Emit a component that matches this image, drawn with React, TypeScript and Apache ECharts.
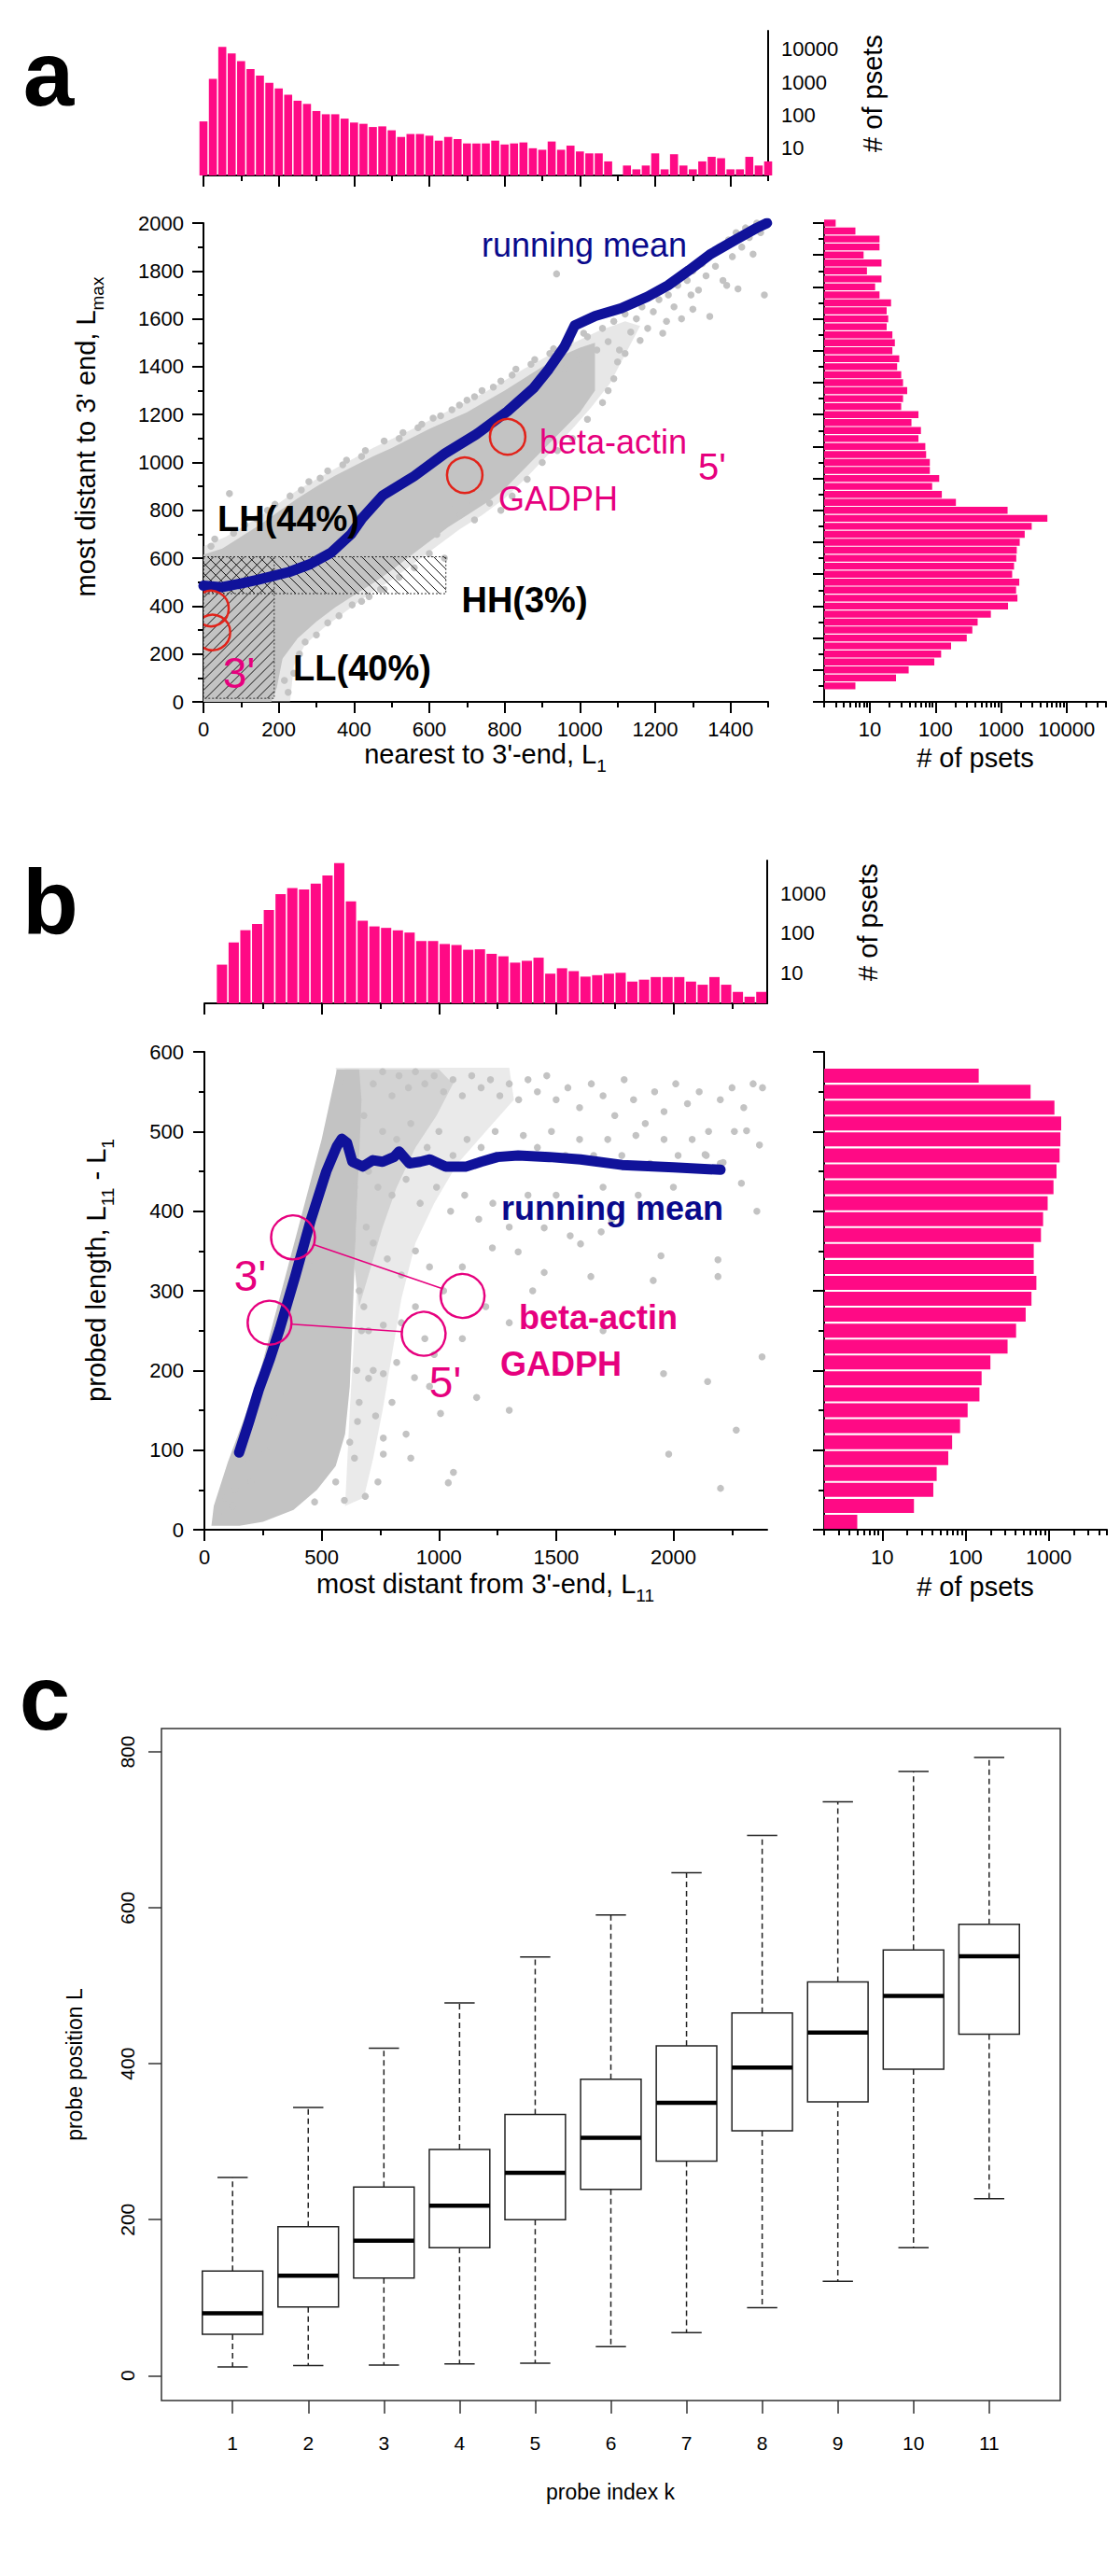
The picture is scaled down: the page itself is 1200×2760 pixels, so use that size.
import React, { useEffect, useRef } from 'react';
import * as echarts from 'echarts';

const FONT = "'Liberation Sans', Arial, Helvetica, sans-serif";
const PINK = '#FF0A85';
const GRAY = '#C3C3C3';
const NAVY = '#10129A';
const NAVY_TEXT = '#0A0A8C';
const MAGENTA = '#E6007E';
const RED = '#E2231A';

// ---------- panel a histograms ----------
// L1 histogram, bins of 25 centred at 0, 25, ..., 1500
const topHistA = [65, 1260, 11700, 7400, 4330, 2500, 1590, 950, 650, 415, 275, 220, 134, 107, 107, 79, 60, 55, 44, 46,
  35, 22, 27, 27, 24, 17, 22, 19, 14, 14, 14, 17, 13, 14, 15, 10, 9, 16, 9, 12, 8, 7, 7, 4, 0, 3, 2.3, 3, 7, 2.3,
  6.6, 3, 2.3, 4, 5.5, 5, 2.3, 2.3, 5.5, 3, 4];
const topHistABins = ['0', '25', '50', '75', '100', '125', '150', '175', '200', '225', '250', '275', '300', '325', '350',
  '375', '400', '425', '450', '475', '500', '525', '550', '575', '600', '625', '650', '675', '700', '725', '750', '775',
  '800', '825', '850', '875', '900', '925', '950', '975', '1000', '1025', '1050', '1075', '1100', '1125', '1150', '1175',
  '1200', '1225', '1250', '1275', '1300', '1325', '1350', '1375', '1400', '1425', '1450', '1475', '1500'];
// Lmax histogram, bins of 33.3 centred at 0, 33.3, ..., 2000
const rightHistA = [0, 0, 6, 25, 39, 96, 122, 173, 300, 365, 440, 700, 1280, 1780, 1700, 1900, 1480, 1580, 1710, 1740,
  1930, 2300, 2940, 5100, 1260, 205, 125, 89, 114, 82, 82, 72, 70, 55, 60, 43, 55, 30, 32, 37, 32, 30, 26, 28, 22, 24,
  22, 18, 19, 18, 21, 14, 12, 15, 9, 15, 8, 14, 14, 6, 3];
const rightHistABins = rightHistA.map((_, i) => 'b' + i);

// ---------- panel b histograms ----------
// L11 histogram, bins 0-50, 50-100, ..., 2350-2400
const topHistB = [0, 16, 58, 118, 170, 380, 960, 1350, 1260, 1750, 2830, 5750, 630, 204, 147, 135, 117, 103, 63, 63,
  53, 50, 38, 39, 30, 26, 18, 20, 24, 9.5, 13, 11, 8, 8.7, 9.5, 10, 6, 6.7, 7.8, 7.8, 7.8, 6, 5, 7.8, 5, 3.3, 2.5, 3.3];
const topHistBBins = topHistB.map((_, i) => 'b' + i);
// L11-L1 histogram, bins 0-20, ..., 580-600
const rightHistB = [5, 24, 41, 45, 62, 69, 86, 106, 147, 156, 199, 320, 405, 528, 620, 710, 660, 660, 806, 855, 970,
  1140, 1240, 1350, 1380, 1410, 1170, 605, 144, 0];
const rightHistBBins = rightHistB.map((_, i) => 'b' + i);

// ---------- running means ----------
const runningMeanA = [[0, 485], [48, 479], [100, 495], [145, 510], [228, 543], [283, 575], [338, 622], [393, 702],
  [421, 766], [476, 862], [559, 942], [641, 1037], [724, 1117], [807, 1213], [876, 1309], [917, 1389], [959, 1484],
  [986, 1572], [1041, 1612], [1110, 1644], [1179, 1692], [1234, 1740], [1290, 1803], [1345, 1868], [1414, 1931],
  [1469, 1979], [1497, 2000]];
const runningMeanB = [[148, 97], [190, 135], [232, 176], [280, 215], [321, 252], [387, 318], [454, 389], [520, 450],
  [564, 481], [586, 491], [608, 486], [631, 462], [675, 456], [719, 464], [760, 462], [808, 468], [830, 475], [874, 460],
  [920, 462], [962, 465], [1029, 456], [1117, 456], [1180, 462], [1250, 468], [1338, 470], [1471, 468], [1604, 465],
  [1781, 458], [2002, 455], [2201, 452]];

// ---------- point clouds ----------
const denseCloudA = [[0, 0], [0, 615], [50, 640], [100, 690], [150, 740], [200, 795], [250, 850], [300, 900], [350, 945],
  [400, 985], [450, 1025], [500, 1060], [550, 1100], [600, 1140], [650, 1175], [700, 1210], [750, 1255], [800, 1300],
  [850, 1350], [900, 1400], [950, 1445], [1000, 1480], [1040, 1500], [1040, 1300], [1000, 1210], [950, 1130],
  [900, 1050], [850, 970], [800, 890], [750, 830], [700, 780], [650, 730], [600, 670], [550, 610], [500, 550],
  [450, 495], [400, 445], [350, 395], [300, 335], [250, 265], [210, 180], [195, 60], [180, 0]];
const lightCloudA = [[0, 0], [0, 650], [60, 690], [150, 775], [250, 885], [350, 975], [450, 1060], [550, 1135],
  [650, 1215], [750, 1295], [850, 1390], [950, 1475], [1050, 1550], [1120, 1590], [1160, 1570], [1120, 1450],
  [1080, 1330], [1030, 1230], [980, 1140], [920, 1040], [860, 940], [800, 850], [740, 780], [680, 720], [620, 650],
  [560, 580], [500, 510], [440, 450], [380, 380], [320, 310], [270, 240], [240, 150], [230, 0]];
const scatterA = [[1060, 1560], [1075, 1505], [1090, 1590], [1105, 1470], [1120, 1620], [1135, 1545], [1150, 1600],
  [1165, 1650], [1180, 1560], [1195, 1630], [1210, 1680], [1220, 1540], [1235, 1700], [1250, 1650], [1260, 1740],
  [1270, 1600], [1285, 1760], [1295, 1700], [1300, 1800], [1315, 1720], [1325, 1830], [1335, 1780], [1345, 1610],
  [1350, 1870], [1360, 1820], [1370, 1900], [1380, 1760], [1390, 1740], [1395, 1930], [1405, 1860], [1415, 1960],
  [1420, 1725], [1430, 1900], [1440, 1980], [1450, 1940], [1460, 1870], [1470, 2000], [1480, 1960], [1490, 1700],
  [1300, 1640], [1230, 1590], [1160, 1510], [1120, 1455], [938, 1788],
  [610, 1185], [660, 1220], [700, 1260], [740, 1300], [790, 1340], [830, 1390], [880, 1430], [930, 1475], [975, 1510],
  [1010, 1540], [1045, 1470], [1000, 1430], [960, 1390],
  [620, 700], [655, 830], [683, 782], [700, 830], [720, 760], [760, 830], [790, 800], [730, 880], [820, 860], [860, 930],
  [900, 1000], [940, 1050], [980, 1100], [1020, 1180], [1060, 1250], [1090, 1350], [1100, 1420], [1075, 1300],
  [640, 600], [600, 620], [560, 560], [520, 520], [470, 470], [420, 420], [650, 900], [870, 1050],
  [69, 870], [30, 680], [110, 740], [170, 800], [230, 860], [280, 920], [330, 965], [380, 1010], [430, 1050], [480, 1090],
  [530, 1125], [580, 1160],
  [20, 650], [80, 705], [140, 765], [190, 825], [260, 885], [310, 935], [370, 990], [420, 1025], [520, 1100],
  [570, 1145], [630, 1195], [680, 1240], [720, 1275], [770, 1315], [820, 1365], [870, 1410], [920, 1455], [970, 1495],
  [1020, 1525],
  [240, 120], [255, 200], [270, 250], [300, 280], [330, 330], [360, 360], [395, 405], [440, 440], [480, 470], [215, 90],
  [225, 40]];

const denseCloudB = [[30, 5], [40, 30], [100, 85], [170, 140], [230, 190], [320, 290], [410, 390], [500, 490], [565, 578],
  [660, 578], [670, 540], [660, 470], [650, 400], [640, 330], [630, 250], [620, 180], [600, 120], [560, 80], [480, 50],
  [380, 25], [250, 10], [150, 5]];
const mediumCloudB = [[600, 578], [1000, 578], [1060, 560], [990, 520], [900, 480], [820, 430], [760, 380], [700, 320],
  [660, 280], [640, 330], [660, 470]];
const lightCloudB = [[560, 580], [1300, 580], [1320, 540], [1200, 500], [1080, 460], [980, 410], [900, 360], [840, 290],
  [800, 220], [760, 150], [720, 90], [680, 40], [600, 30], [620, 150], [650, 300]];
const scatterB = [[720, 560], [760, 575], [800, 545], [830, 570], [870, 555], [900, 575], [940, 560], [980, 570],
  [1020, 550], [1060, 565], [1100, 545], [1140, 570], [1180, 555], [1220, 565], [1260, 545], [1300, 560], [1340, 540],
  [1380, 565], [1420, 550], [1460, 570], [1500, 540], [1550, 555], [1600, 530], [1650, 560], [1700, 545], [1750, 520],
  [1790, 565], [1830, 540], [1880, 510], [1920, 550], [1960, 525], [2010, 560], [2060, 535], [2110, 550], [2150, 500],
  [2200, 540], [2250, 555], [2300, 530], [2340, 560], [2380, 555],
  [760, 500], [820, 490], [880, 510], [950, 480], [1000, 500], [1060, 470], [1120, 490], [1180, 480], [1240, 500],
  [1300, 470], [1360, 495], [1420, 480], [1480, 500], [1540, 470], [1600, 490], [1660, 470], [1720, 490], [1780, 470],
  [1840, 495], [1900, 460], [1960, 490], [2020, 470], [2080, 490], [2140, 470], [2200, 460], [2260, 500], [2312, 501],
  [2367, 483], [2290, 435], [2356, 400],
  [740, 430], [800, 420], [860, 440], [920, 410], [990, 430], [1050, 400], [1110, 420], [1170, 390], [1230, 410],
  [1300, 380], [1380, 420], [1449, 379], [1449, 323], [1560, 369], [1604, 359], [1648, 318], [1692, 374], [1737, 389],
  [1914, 313], [1947, 344], [2190, 339], [2190, 318], [2135, 471], [2212, 461], [1500, 420], [1700, 430], [1850, 420],
  [2000, 430],
  [720, 360], [780, 340], [840, 320], [900, 350], [960, 330], [1020, 300], [1100, 330], [1228, 354], [1338, 349],
  [1200, 280], [1300, 260], [1400, 300],
  [700, 250], [763, 257], [720, 200], [763, 196], [896, 191], [980, 220], [1100, 240], [1161, 166], [1007, 146],
  [1062, 72], [1040, 59], [763, 115], [763, 95], [686, 42], [597, 37], [730, 143], [653, 136], [800, 160], [860, 120],
  [840, 260], [900, 280], [940, 240], [680, 280], [700, 190], [740, 60], [820, 210], [880, 90], [960, 180],
  [680, 520], [700, 450], [690, 380], [670, 250], [660, 160], [640, 90],
  [1958, 196], [1980, 95], [2268, 125], [2201, 52], [2146, 186], [2378, 217], [1700, 250], [1500, 200], [1300, 150],
  [60, 20], [90, 40], [130, 50], [180, 90], [120, 30], [200, 60], [260, 100], [300, 140], [350, 170], [420, 260],
  [460, 330], [530, 450], [560, 540], [600, 560], [640, 430], [660, 300], [650, 200], [620, 110], [560, 60], [470, 35]];

// ---------- annotations ----------
const circlesA = [[808, 1107], [694, 947], [20, 390], [24, 290]];
const circlesB = [[378, 367], [278, 260], [1101, 294], [935, 247]];
const linkPairsB = [[0, 2], [1, 3]];
// [x0, y0, x1, y1, direction]  direction 0 = "\\", 1 = "/"
const hatchA = [[0, 452, 644, 606, 0], [0, 15, 188, 606, 1]];

// ---------- panel c ----------
const probeIndex = [1, 2, 3, 4, 5, 6, 7, 8, 9, 10, 11];
// [min, q1, median, q3, max]
const boxStats = [
  [11, 53, 80, 134, 254],
  [13, 88, 128, 191, 344],
  [13.5, 125, 173, 242, 420],
  [15, 164, 218, 290, 478],
  [16, 200, 260, 335, 537],
  [37, 239, 305, 380, 591],
  [55, 275, 350, 423, 645],
  [87, 314, 395, 465, 693],
  [121, 351, 440, 505, 736],
  [164, 393, 487, 546, 775],
  [227, 438, 538, 579, 793],
];

// ---------- ticks ----------
const ticksAxMajor = [0, 200, 400, 600, 800, 1000, 1200, 1400];
const ticksAxMinor = [100, 300, 500, 700, 900, 1100, 1300, 1500];
const ticksAyMajor = [0, 200, 400, 600, 800, 1000, 1200, 1400, 1600, 1800, 2000];
const ticksAyMinor = [100, 300, 500, 700, 900, 1100, 1300, 1500, 1700, 1900];
const ticksBxMajor = [0, 500, 1000, 1500, 2000];
const ticksBxMinor = [250, 750, 1250, 1750, 2250];
const ticksByMajor = [0, 100, 200, 300, 400, 500, 600];
const ticksByMinor = [50, 150, 250, 350, 450, 550];
const ticksRAMajor = [0, 133.333, 266.667, 400, 533.333, 666.667, 800, 933.333, 1066.667, 1200, 1333.333, 1466.667,
  1600, 1733.333, 1866.667, 2000];
const ticksRAMinor = [66.667, 200, 333.333, 466.667, 600, 733.333, 866.667, 1000, 1133.333, 1266.667, 1400, 1533.333,
  1666.667, 1800, 1933.333];
const logMajorA = [10, 100, 1000, 10000];
const logMinorA = [2, 3, 4, 5, 6, 7, 8, 9, 20, 30, 40, 50, 60, 70, 80, 90, 200, 300, 400, 500, 600, 700, 800, 900,
  2000, 3000, 4000, 5000, 6000, 7000, 8000, 9000, 20000, 30000, 40000];
const logMajorB = [10, 100, 1000];
const logMinorB = [2, 3, 4, 5, 6, 7, 8, 9, 20, 30, 40, 50, 60, 70, 80, 90, 200, 300, 400, 500, 600, 700, 800, 900,
  2000, 3000, 4000, 5000];
const ticksCy = [0, 200, 400, 600, 800];

const AX_LINE = { show: true, onZero: false, lineStyle: { color: '#000', width: 2 } };
const NO_LINE = { show: false, onZero: false };
const LABEL = { fontSize: 22, fontFamily: FONT, color: '#000' };
const fmtInt = (v: number) => String(Math.round(v));

function tickAxis(grid: number, type: string, min: number, max: number, values: number[], len: number, position: string) {
  const ax: any = {
    type, gridIndex: grid, min, max, position,
    axisLine: NO_LINE,
    axisTick: { show: true, length: len, customValues: values, lineStyle: { color: '#000', width: 2 } },
    axisLabel: { show: false },
    splitLine: { show: false },
    minorTick: { show: false },
  };
  if (type === 'log') ax.logBase = 10;
  return ax;
}

function polySeries(xi: number, yi: number, pts: number[][], opacity: number) {
  return {
    type: 'custom', xAxisIndex: xi, yAxisIndex: yi, clip: true, silent: true, z: 1,
    data: [[pts[0][0], pts[0][1]]],
    renderItem: (params: any, api: any) => {
      if (params.dataIndex !== 0) return null;
      return {
        type: 'polygon',
        shape: { points: pts.map((p) => api.coord(p)) },
        style: { fill: GRAY, opacity },
      };
    },
  };
}

function T(x: number, y: number, text: string, size: number, opts: any = {}) {
  const style: any = {
    text, fontSize: size, fontFamily: FONT, fontWeight: opts.bold ? 'bold' : 'normal',
    fill: opts.color || '#000', align: 'center', verticalAlign: 'middle',
  };
  if (opts.sub) {
    style.lineHeight = 44;
    style.rich = { sub: { fontSize: 19, fontFamily: FONT, fill: opts.color || '#000', verticalAlign: 'bottom', lineHeight: 19 } };
  }
  return { type: 'text', x, y, z: 100, rotation: opts.rot ? Math.PI / 2 : 0, style };
}

function buildOption() {
  const grids = [
    { left: 218, top: 33, width: 605, height: 155 },
    { left: 218, top: 239, width: 605, height: 513 },
    { left: 883, top: 239, width: 302, height: 513 },
    { left: 219, top: 922, width: 603, height: 153 },
    { left: 219, top: 1127, width: 603, height: 512 },
    { left: 883, top: 1127, width: 303, height: 512 },
    { left: 173, top: 1852, width: 963, height: 720, show: true, borderColor: '#333', borderWidth: 1.5, backgroundColor: '#fff' },
  ].map((g) => ({ containLabel: false, outerBoundsMode: 'none', ...g }));

  const xAxis = [
    { type: 'category', gridIndex: 0, data: topHistABins, boundaryGap: false, position: 'bottom', axisLine: AX_LINE,
      axisTick: { show: false }, axisLabel: { show: false }, splitLine: { show: false } },
    tickAxis(0, 'value', 0, 1500, ticksAxMajor, 12, 'bottom'),
    tickAxis(0, 'value', 0, 1500, ticksAxMinor, 6, 'bottom'),
    { type: 'value', gridIndex: 1, min: 0, max: 1500, position: 'bottom', axisLine: AX_LINE,
      axisTick: { show: true, length: 12, customValues: ticksAxMajor, lineStyle: { color: '#000', width: 2 } },
      axisLabel: { ...LABEL, margin: 18, customValues: ticksAxMajor, formatter: fmtInt }, splitLine: { show: false } },
    tickAxis(1, 'value', 0, 1500, ticksAxMinor, 6, 'bottom'),
    { type: 'log', logBase: 10, gridIndex: 2, min: 2, max: 40000, position: 'bottom', axisLine: AX_LINE,
      axisTick: { show: true, length: 12, customValues: logMajorA, lineStyle: { color: '#000', width: 2 } },
      axisLabel: { ...LABEL, margin: 18, customValues: logMajorA, formatter: fmtInt }, splitLine: { show: false } },
    tickAxis(2, 'log', 2, 40000, logMinorA, 6, 'bottom'),
    { type: 'category', gridIndex: 3, data: topHistBBins, boundaryGap: true, position: 'bottom', axisLine: AX_LINE,
      axisTick: { show: false }, axisLabel: { show: false }, splitLine: { show: false } },
    tickAxis(3, 'value', 0, 2400, ticksBxMajor, 12, 'bottom'),
    tickAxis(3, 'value', 0, 2400, ticksBxMinor, 6, 'bottom'),
    { type: 'value', gridIndex: 4, min: 0, max: 2400, position: 'bottom', axisLine: AX_LINE,
      axisTick: { show: true, length: 12, customValues: ticksBxMajor, lineStyle: { color: '#000', width: 2 } },
      axisLabel: { ...LABEL, margin: 18, customValues: ticksBxMajor, formatter: fmtInt }, splitLine: { show: false } },
    tickAxis(4, 'value', 0, 2400, ticksBxMinor, 6, 'bottom'),
    { type: 'log', logBase: 10, gridIndex: 5, min: 2, max: 5000, position: 'bottom', axisLine: AX_LINE,
      axisTick: { show: true, length: 12, customValues: logMajorB, lineStyle: { color: '#000', width: 2 } },
      axisLabel: { ...LABEL, margin: 18, customValues: logMajorB, formatter: fmtInt }, splitLine: { show: false } },
    tickAxis(5, 'log', 2, 5000, logMinorB, 6, 'bottom'),
    { type: 'value', gridIndex: 6, min: 0.06, max: 11.94, position: 'bottom', axisLine: NO_LINE,
      axisTick: { show: true, length: 14, customValues: probeIndex, lineStyle: { color: '#333', width: 1.5 } },
      axisLabel: { fontSize: 21, fontFamily: FONT, color: '#000', margin: 35, customValues: probeIndex, formatter: fmtInt },
      splitLine: { show: false } },
  ];

  const yAxis = [
    { type: 'log', logBase: 10, gridIndex: 0, min: 1.5, max: 36000, position: 'right', axisLine: AX_LINE,
      axisTick: { show: false }, axisLabel: { ...LABEL, margin: 14, customValues: logMajorA, formatter: fmtInt },
      splitLine: { show: false } },
    { type: 'value', gridIndex: 1, min: 0, max: 2000, position: 'left', axisLine: AX_LINE,
      axisTick: { show: true, length: 12, customValues: ticksAyMajor, lineStyle: { color: '#000', width: 2 } },
      axisLabel: { ...LABEL, margin: 21, customValues: ticksAyMajor, formatter: fmtInt }, splitLine: { show: false } },
    tickAxis(1, 'value', 0, 2000, ticksAyMinor, 6, 'left'),
    { type: 'category', gridIndex: 2, data: rightHistABins, boundaryGap: false, position: 'left', axisLine: AX_LINE,
      axisTick: { show: false }, axisLabel: { show: false }, splitLine: { show: false } },
    tickAxis(2, 'value', 0, 2000, ticksRAMajor, 12, 'left'),
    tickAxis(2, 'value', 0, 2000, ticksRAMinor, 6, 'left'),
    { type: 'log', logBase: 10, gridIndex: 3, min: 1.7, max: 6700, position: 'right', axisLine: AX_LINE,
      axisTick: { show: false }, axisLabel: { ...LABEL, margin: 14, customValues: logMajorB, formatter: fmtInt },
      splitLine: { show: false } },
    { type: 'value', gridIndex: 4, min: 0, max: 600, position: 'left', axisLine: AX_LINE,
      axisTick: { show: true, length: 12, customValues: ticksByMajor, lineStyle: { color: '#000', width: 2 } },
      axisLabel: { ...LABEL, margin: 22, customValues: ticksByMajor, formatter: fmtInt }, splitLine: { show: false } },
    tickAxis(4, 'value', 0, 600, ticksByMinor, 6, 'left'),
    { type: 'category', gridIndex: 5, data: rightHistBBins, boundaryGap: true, position: 'left', axisLine: AX_LINE,
      axisTick: { show: false }, axisLabel: { show: false }, splitLine: { show: false } },
    tickAxis(5, 'value', 0, 600, ticksByMajor, 12, 'left'),
    tickAxis(5, 'value', 0, 600, ticksByMinor, 6, 'left'),
    { type: 'value', gridIndex: 6, min: -32, max: 830, position: 'left', axisLine: NO_LINE,
      axisTick: { show: true, length: 14, customValues: ticksCy, lineStyle: { color: '#333', width: 1.5 } },
      axisLabel: { fontSize: 21, fontFamily: FONT, color: '#000', margin: 26, rotate: 90, customValues: ticksCy, formatter: fmtInt },
      splitLine: { show: false } },
  ];

  const barData = (arr: number[]) => arr.map((v) => (v > 0 ? v : '-'));

  const hatchSeries = {
    type: 'custom', xAxisIndex: 3, yAxisIndex: 1, clip: true, silent: true, z: 4,
    data: hatchA,
    renderItem: (params: any, api: any) => {
      const p0 = api.coord([api.value(0), api.value(3)]);
      const p1 = api.coord([api.value(2), api.value(1)]);
      const dir = api.value(4);
      const L = p0[0], Tp = p0[1], R = p1[0], B = p1[1];
      const s = 11;
      const children: any[] = [];
      const ls = { stroke: '#111', lineWidth: 1 };
      if (dir === 1) {
        for (let c = L + Tp + s; c < R + B; c += s) {
          const xa = Math.max(L, c - B), xb = Math.min(R, c - Tp);
          if (xb > xa) children.push({ type: 'line', shape: { x1: xa, y1: c - xa, x2: xb, y2: c - xb }, style: ls });
        }
      } else {
        for (let c = L - B + s; c < R - Tp; c += s) {
          const xa = Math.max(L, c + Tp), xb = Math.min(R, c + B);
          if (xb > xa) children.push({ type: 'line', shape: { x1: xa, y1: xa - c, x2: xb, y2: xb - c }, style: ls });
        }
      }
      children.push({ type: 'rect', shape: { x: L, y: Tp, width: R - L, height: B - Tp },
        style: { fill: 'none', stroke: '#333', lineWidth: 1, lineDash: [2, 2] } });
      return { type: 'group', children };
    },
  };

  const circleSeries = (xi: number, yi: number, pts: number[][], r: number, color: string) => ({
    type: 'custom', xAxisIndex: xi, yAxisIndex: yi, clip: true, silent: true, z: 8,
    data: pts,
    renderItem: (params: any, api: any) => {
      const c = api.coord([api.value(0), api.value(1)]);
      return { type: 'circle', shape: { cx: c[0], cy: c[1], r }, style: { fill: 'none', stroke: color, lineWidth: 2.5 } };
    },
  });

  const linkSeries = {
    type: 'custom', xAxisIndex: 10, yAxisIndex: 7, clip: true, silent: true, z: 7,
    data: linkPairsB.map(([a, b]) => [circlesB[a][0], circlesB[a][1], circlesB[b][0], circlesB[b][1]]),
    renderItem: (params: any, api: any) => {
      const p = api.coord([api.value(0), api.value(1)]);
      const q = api.coord([api.value(2), api.value(3)]);
      const dx = q[0] - p[0], dy = q[1] - p[1];
      const d = Math.sqrt(dx * dx + dy * dy) || 1;
      const r = 23.5;
      return {
        type: 'line',
        shape: { x1: p[0] + (dx / d) * r, y1: p[1] + (dy / d) * r, x2: q[0] - (dx / d) * r, y2: q[1] - (dy / d) * r },
        style: { stroke: MAGENTA, lineWidth: 1.5 },
      };
    },
  };

  const boxSeries = {
    type: 'custom', xAxisIndex: 14, yAxisIndex: 12, silent: true, z: 5,
    data: boxStats.map((s, i) => [probeIndex[i], ...s]),
    renderItem: (params: any, api: any) => {
      const k = api.value(0);
      const mn = api.value(1), q1 = api.value(2), md = api.value(3), q3 = api.value(4), mx = api.value(5);
      const w = api.size([0.8, 0])[0];
      const cw = api.size([0.4, 0])[0];
      const cx = api.coord([k, md])[0];
      const y = (v: number) => api.coord([k, v])[1];
      const stroke = '#222';
      return {
        type: 'group',
        children: [
          { type: 'line', shape: { x1: cx, y1: y(q3), x2: cx, y2: y(mx) }, style: { stroke, lineWidth: 1.5, lineDash: [6, 4] } },
          { type: 'line', shape: { x1: cx, y1: y(q1), x2: cx, y2: y(mn) }, style: { stroke, lineWidth: 1.5, lineDash: [6, 4] } },
          { type: 'line', shape: { x1: cx - cw / 2, y1: y(mx), x2: cx + cw / 2, y2: y(mx) }, style: { stroke, lineWidth: 1.5 } },
          { type: 'line', shape: { x1: cx - cw / 2, y1: y(mn), x2: cx + cw / 2, y2: y(mn) }, style: { stroke, lineWidth: 1.5 } },
          { type: 'rect', shape: { x: cx - w / 2, y: y(q3), width: w, height: y(q1) - y(q3) }, style: { fill: '#fff', stroke, lineWidth: 1.5 } },
          { type: 'line', shape: { x1: cx - w / 2, y1: y(md), x2: cx + w / 2, y2: y(md) }, style: { stroke: '#000', lineWidth: 4.5 } },
        ],
      };
    },
  };

  const series: any[] = [
    { type: 'bar', xAxisIndex: 0, yAxisIndex: 0, data: barData(topHistA), barWidth: 8.6, clip: true, silent: true,
      itemStyle: { color: PINK } },
    { type: 'bar', xAxisIndex: 5, yAxisIndex: 3, data: barData(rightHistA), barWidth: 7.4, clip: true, silent: true,
      itemStyle: { color: PINK } },
    { type: 'bar', xAxisIndex: 7, yAxisIndex: 6, data: barData(topHistB), barWidth: 11, clip: true, silent: true,
      itemStyle: { color: PINK } },
    { type: 'bar', xAxisIndex: 12, yAxisIndex: 9, data: barData(rightHistB), barWidth: 15, clip: true, silent: true,
      itemStyle: { color: PINK } },
    polySeries(3, 1, lightCloudA, 0.4),
    polySeries(3, 1, denseCloudA, 1),
    { type: 'scatter', xAxisIndex: 3, yAxisIndex: 1, data: scatterA, symbolSize: 7.5, silent: true, z: 2,
      itemStyle: { color: GRAY, opacity: 1 } },
    hatchSeries,
    { type: 'line', xAxisIndex: 3, yAxisIndex: 1, data: runningMeanA, showSymbol: false, symbol: 'none', silent: true, z: 6,
      lineStyle: { color: NAVY, width: 11, cap: 'round', join: 'round' } },
    circleSeries(3, 1, circlesA, 19, RED),
    polySeries(10, 7, lightCloudB, 0.35),
    polySeries(10, 7, mediumCloudB, 0.6),
    polySeries(10, 7, denseCloudB, 1),
    { type: 'scatter', xAxisIndex: 10, yAxisIndex: 7, data: scatterB, symbolSize: 7.5, silent: true, z: 2,
      itemStyle: { color: GRAY, opacity: 1 } },
    { type: 'line', xAxisIndex: 10, yAxisIndex: 7, data: runningMeanB, showSymbol: false, symbol: 'none', silent: true, z: 6,
      lineStyle: { color: NAVY, width: 11, cap: 'round', join: 'round' } },
    linkSeries,
    circleSeries(10, 7, circlesB, 23.5, MAGENTA),
    boxSeries,
  ];

  const graphics = [
    T(52, 79, 'a', 98, { bold: true }),
    T(54, 966, 'b', 98, { bold: true }),
    T(48, 1819, 'c', 98, { bold: true }),
    T(935, 100, '# of psets', 29, { rot: true }),
    T(930, 988, '# of psets', 29, { rot: true }),
    T(1045, 812, '# of psets', 29),
    T(1045, 1700, '# of psets', 29),
    T(520, 808, "nearest to 3'-end, L{sub|1}", 29, { sub: true }),
    T(92, 468, "most distant to 3' end, L{sub|max}", 29, { sub: true, rot: true }),
    T(520, 1697, "most distant from 3'-end, L{sub|11}", 29, { sub: true }),
    T(103, 1361, 'probed length, L{sub|11} - L{sub|1}', 29, { sub: true, rot: true }),
    T(654, 2670, 'probe index k', 23),
    T(80, 2212, 'probe position L', 23, { rot: true }),
    T(626, 262, 'running mean', 36, { color: NAVY_TEXT }),
    T(657, 473, 'beta-actin', 36, { color: MAGENTA }),
    T(763, 500, "5'", 40, { color: MAGENTA }),
    T(598, 534, 'GADPH', 36, { color: MAGENTA }),
    T(309, 556, 'LH(44%)', 38, { bold: true }),
    T(562, 643, 'HH(3%)', 38, { bold: true }),
    T(388, 716, 'LL(40%)', 38, { bold: true }),
    T(256, 721, "3'", 46, { color: MAGENTA }),
    T(656, 1294, 'running mean', 36, { bold: true, color: NAVY_TEXT }),
    T(641, 1411, 'beta-actin', 36, { bold: true, color: MAGENTA }),
    T(601, 1461, 'GADPH', 36, { bold: true, color: MAGENTA }),
    T(268, 1367, "3'", 46, { color: MAGENTA }),
    T(477, 1481, "5'", 46, { color: MAGENTA }),
  ];

  return {
    animation: false,
    backgroundColor: '#fff',
    textStyle: { fontFamily: FONT },
    grid: grids,
    xAxis,
    yAxis,
    series,
    graphic: { elements: graphics },
  };
}

export default function App() {
  const ref = useRef<HTMLDivElement>(null);
  useEffect(() => {
    if (!ref.current) return;
    const chart = echarts.init(ref.current, null, { renderer: 'svg' });
    chart.setOption(buildOption() as any);
    return () => chart.dispose();
  }, []);
  return <div ref={ref} style={{ position: 'absolute', left: 0, top: 0, width: 1200, height: 2760, background: '#fff' }} />;
}
